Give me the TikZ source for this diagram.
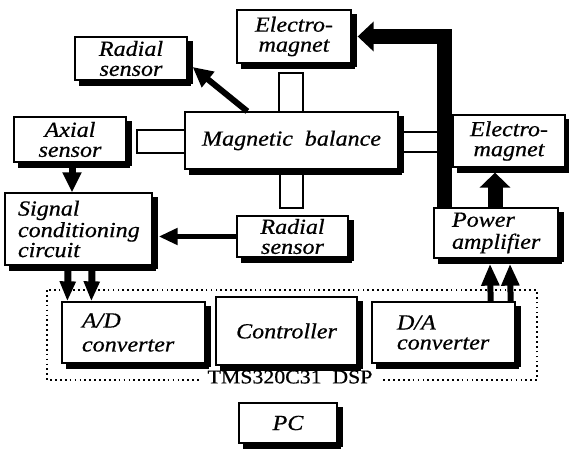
\documentclass[tikz,border=0pt]{standalone}
\usepackage{fontspec}
\setmainfont{Liberation Serif}
\newfontfamily\lblfam[FakeStretch=1.12,FakeBold=0.6]{Liberation Serif}
\newcommand\lblfont{\lblfam\itshape\fontsize{21.5}{19}\selectfont}
\newcommand\dspfont{\lblfam\fontsize{19.5}{20}\selectfont}
\usetikzlibrary{arrows.meta,calc}
\begin{document}
\begin{tikzpicture}[x=1pt,y=-1pt,
  box/.style={draw, line width=1.3pt, fill=white, inner sep=0pt, font=\lblfont},
  shadowfill/.style={fill=black},
  stub/.style={draw, line width=1.2pt, fill=white, inner sep=0pt},
  dotline/.style={line width=1.7pt, dash pattern=on 1.7pt off 3.2pt},
]
\useasboundingbox (0,0) rectangle (569,449);

% DSP frame
\draw[dotline] (47,290) rectangle (537,380);
\node[fill=white, inner xsep=9pt, inner ysep=2pt, font=\dspfont] (dsplabel) at (290,377) {TMS320C31\hspace{0.55em}DSP};

% stubs of the balance
\node[stub, minimum width=49pt, minimum height=23pt] (stubL) at (161.5,141.5) {};
\node[stub, minimum width=51pt, minimum height=20pt] (stubR) at (422.5,142) {};
\node[stub, minimum width=24pt, minimum height=40pt] (stubT) at (291,93) {};
\node[stub, minimum width=23pt, minimum height=40pt] (stubB) at (291.5,188) {};

% boxes
\node[box, minimum width=114pt, minimum height=53pt, align=center] (emtop) at (294,36.5) {Electro-\\[1pt]magnet};
\node[box, minimum width=112pt, minimum height=43pt, align=center] (radtop) at (131,58.5) {Radial\\[1pt]sensor};
\node[box, minimum width=213pt, minimum height=57pt] (mb) at (291.5,140.5) {Magnetic\hspace{0.55em}balance};
\node[box, minimum width=112pt, minimum height=45pt, align=center] (axial) at (70,139.5) {Axial\\[1pt]sensor};
\node[box, minimum width=147pt, minimum height=72pt, text width=121pt, align=left] (signal) at (78.5,229) {Signal\\[1pt]conditioning\\[1pt]circuit};
\node[box, minimum width=111pt, minimum height=41pt, align=center] (radbot) at (292.5,236.5) {Radial\\[1pt]sensor};
\node[box, minimum width=112pt, minimum height=52pt, align=center] (emright) at (509,141) {Electro-\\[1pt]magnet};
\node[box, minimum width=124pt, minimum height=50pt, text width=88pt, align=left] (power) at (496,233) {Power\\[3pt]amplifier};
\node[box, minimum width=143pt, minimum height=61pt, text width=103pt, align=left] (ad) at (133.5,332.5) {A/D\\[5pt]converter};
\node[box, minimum width=141pt, minimum height=68pt] (ctrl) at (286.5,331) {Controller};
\node[box, minimum width=143pt, minimum height=61pt, text width=93pt, align=left] (da) at (443.5,332.5) {D/A\\[1pt]converter};
\node[box, minimum width=98pt, minimum height=40pt] (pc) at (288,423) {PC};

% shadows (right and bottom strips, offset 5pt)
\fill[shadowfill] (emtop.north east) ++(0.6,5) rectangle ++(4.4,53);
\fill[shadowfill] (emtop.south west) ++(5,0.6) rectangle ++(114,4.4);
\fill[shadowfill] (radtop.north east) ++(0.6,5) rectangle ++(4.4,43);
\fill[shadowfill] (radtop.south west) ++(5,0.6) rectangle ++(112,4.4);
\fill[shadowfill] (mb.north east) ++(0.6,5) rectangle ++(4.4,57);
\fill[shadowfill] (mb.south west) ++(5,0.6) rectangle ++(213,4.4);
\fill[shadowfill] (axial.north east) ++(0.6,5) rectangle ++(4.4,45);
\fill[shadowfill] (axial.south west) ++(5,0.6) rectangle ++(112,4.4);
\fill[shadowfill] (signal.north east) ++(0.6,5) rectangle ++(4.4,72);
\fill[shadowfill] (signal.south west) ++(5,0.6) rectangle ++(147,4.4);
\fill[shadowfill] (radbot.north east) ++(0.6,5) rectangle ++(4.4,41);
\fill[shadowfill] (radbot.south west) ++(5,0.6) rectangle ++(111,4.4);
\fill[shadowfill] (emright.north east) ++(0.6,5) rectangle ++(4.4,52);
\fill[shadowfill] (emright.south west) ++(5,0.6) rectangle ++(112,4.4);
\fill[shadowfill] (power.north east) ++(0.6,5) rectangle ++(4.4,50);
\fill[shadowfill] (power.south west) ++(5,0.6) rectangle ++(124,4.4);
\fill[shadowfill] (ad.north east) ++(0.6,5) rectangle ++(4.4,61);
\fill[shadowfill] (ad.south west) ++(5,0.6) rectangle ++(143,4.4);
\fill[shadowfill] (ctrl.north east) ++(0.6,5) rectangle ++(4.4,68);
\fill[shadowfill] (ctrl.south west) ++(5,0.6) rectangle ++(141,4.4);
\fill[shadowfill] (da.north east) ++(0.6,5) rectangle ++(4.4,61);
\fill[shadowfill] (da.south west) ++(5,0.6) rectangle ++(143,4.4);
\fill[shadowfill] (pc.north east) ++(0.6,5) rectangle ++(4.4,40);
\fill[shadowfill] (pc.south west) ++(5,0.6) rectangle ++(98,4.4);

% connectors
\draw[line width=6pt, -{Triangle[length=20pt,width=19pt]}] ($(mb.north west)+(63,0)$) -- ($(radtop.east)+(5,8.5)$);
\draw[line width=15pt, line join=miter, -{Triangle[length=16pt,width=29pt]}] ($(power.north west)+(11,0)$) |- ($(emtop.east)+(6,0)$);
\draw[line width=15pt, -{Triangle[length=15pt,width=30pt]}] ($(power.north)+(-1,0)$) -- ($(emright.south)+(-14,5)$);
\draw[line width=7pt, -{Triangle[length=20pt,width=18pt]}] ($(axial.south)+(2,5)$) -- ($(signal.north)+(-6.5,0)$);
\draw[line width=5pt, -{Triangle[length=19pt,width=16pt]}] (radbot.west) -- ($(signal.east |- radbot.west)+(6,0)$);
\draw[line width=7pt, -{Triangle[length=20pt,width=15pt]}] ($(signal.south)+(-10.5,5)$) -- ($(ad.north west)+(6,0)$);
\draw[line width=7pt, -{Triangle[length=20pt,width=15pt]}] ($(signal.south)+(13.5,5)$) -- ($(ad.north west)+(30,0)$);
\draw[line width=6pt, -{Triangle[length=22pt,width=17pt]}] ($(da.north east)+(-25,0)$) -- ($(power.south)+(-6,5)$);
\draw[line width=6pt, -{Triangle[length=22pt,width=17pt]}] ($(da.north east)+(-5,0)$) -- ($(power.south)+(14,5)$);
\end{tikzpicture}
\end{document}
